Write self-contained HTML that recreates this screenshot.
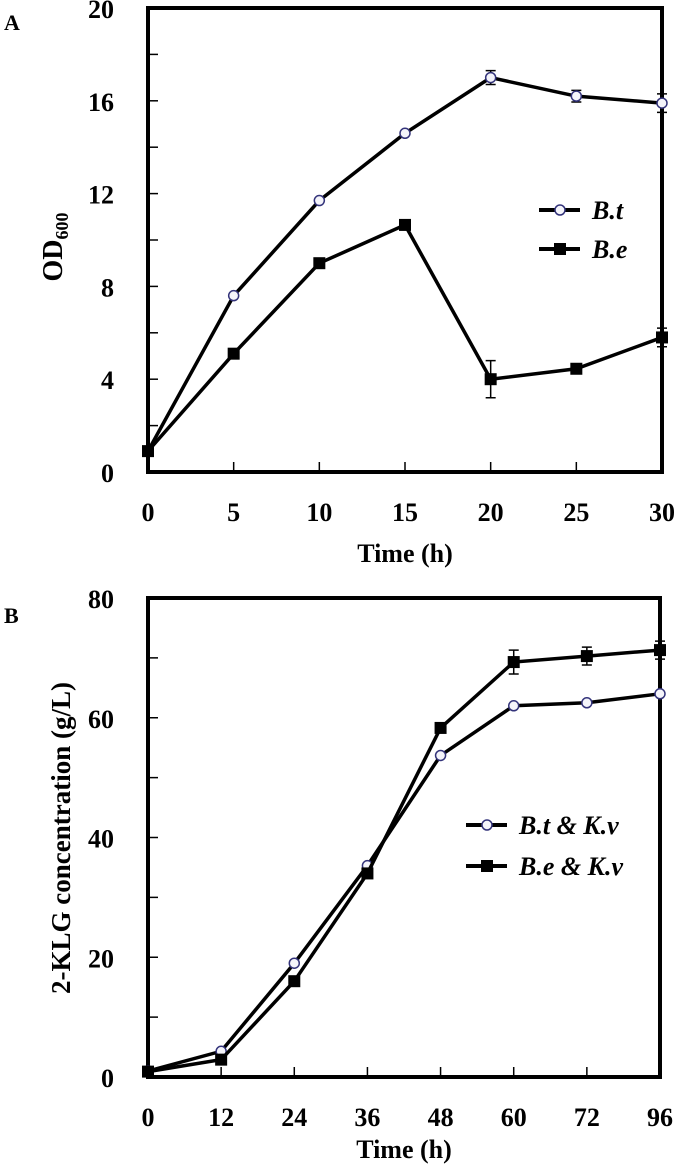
<!DOCTYPE html>
<html><head><meta charset="utf-8"><style>
body{margin:0;background:#fff}
svg{display:block;font-family:"Liberation Serif",serif;font-weight:bold}
</style></head><body>
<svg id="fig" width="675" height="1168" viewBox="0 0 675 1168"></svg>
<script>
const timeA = [0,5,10,15,20,25,30];
const btA = [0.9,7.6,11.7,14.6,17.0,16.2,15.9];
const btAErr = [0,0,0,0,0.3,0.25,0.4];
const beA = [0.9,5.1,9.0,10.65,4.0,4.45,5.8];
const beAErr = [0,0,0,0,0.8,0,0.4];
const yTicksA = [0,4,8,12,16,20];
const catsB = ["0","12","24","36","48","60","72","96"];
const btB = [1.0,4.3,19,35.3,53.7,62,62.5,64];
const btBErr = [0,0,0,0,0,0,0,0];
const beB = [0.9,2.9,16,34,58.3,69.3,70.3,71.3];
const beBErr = [0,0,0,0,0,2,1.5,1.5];
const yTicksB = [0,20,40,60,80];

const NS="http://www.w3.org/2000/svg";
const svg=document.getElementById('fig');
function mk(t,a,p){const e=document.createElementNS(NS,t);for(const k in a)e.setAttribute(k,a[k]);(p||svg).appendChild(e);return e;}

function panel(o){
  const g=mk('g',{});
  
  
  const X=i=>o.x0+(o.x1-o.x0)*i/(o.n-1);
  const Y=v=>o.y0-(o.y0-o.y1)*v/o.ymax;
  for(let v=0;v<=o.ymax;v+=o.minor){
    const t=mk('line',{x1:o.x0,x2:o.x0+10,y1:Y(v),y2:Y(v),stroke:'#000','stroke-width':1.5},g);
    
    
  }
  o.yTicks.forEach(v=>{
    const t=mk('text',{x:o.x0-34,y:Y(v)+10,'text-anchor':'end','font-size':26},g);
    t.textContent=v;
    
    
  });
  o.xLabels.forEach((l,i)=>{
    const tk=mk('line',{x1:X(i),x2:X(i),y1:o.y0,y2:o.y0-10,stroke:'#000','stroke-width':1.5},g);
    
    
    const t=mk('text',{x:X(i),y:o.y0+49,'text-anchor':'middle','font-size':26},g);
    t.textContent=l;
    
    
  });
  const fr=mk('rect',{x:o.x0,y:o.y1,width:o.x1-o.x0,height:o.y0-o.y1,fill:'none',stroke:'#000','stroke-width':4},g);
  
  
  o.series.forEach(s=>{
    const pl=mk('polyline',{points:s.v.map((v,i)=>X(i)+','+Y(v)).join(' '),fill:'none',stroke:'#000','stroke-width':3.5},g);
    
    
    s.v.forEach((v,i)=>{
      if(s.e[i]>0){
        const eb=mk('path',{d:`M${X(i)-5},${Y(v+s.e[i])}H${X(i)+5}M${X(i)},${Y(v+s.e[i])}V${Y(v-s.e[i])}M${X(i)-5},${Y(v-s.e[i])}H${X(i)+5}`,stroke:'#000','stroke-width':1.5,fill:'none'},g);
        
        
      }
      let m;
      if(s.sq) m=mk('rect',{x:X(i)-6,y:Y(v)-6,width:12,height:12,fill:'#000'},g);
      else m=mk('circle',{cx:X(i),cy:Y(v),r:5,fill:'#f4f4fa',stroke:'#33337a','stroke-width':1.5},g);
      
      
    });
  });
  o.series.forEach((s,k)=>{
    const ly=o.legY+k*o.legDy;
    const ln=mk('line',{x1:o.legX,x2:o.legX+41,y1:ly,y2:ly,stroke:'#000','stroke-width':4},g);
    
    
    let m;
    if(s.sq) m=mk('rect',{x:o.legX+15,y:ly-6,width:12,height:12,fill:'#000'},g);
    else m=mk('circle',{cx:o.legX+21,cy:ly,r:5,fill:'#f4f4fa',stroke:'#33337a','stroke-width':1.5},g);
    
    
    const t=mk('text',{x:o.legX+53,y:ly+9,'font-size':26,'font-style':'italic'},g);
    t.textContent=s.label;
    
    
  });
  const pl=mk('text',{x:4,y:o.panY,'font-size':22},g);
  pl.textContent=o.panel;
  
  
  const xt=mk('text',{x:(o.x0+o.x1)/2,y:o.xtY,'text-anchor':'middle','font-size':26},g);
  xt.textContent='Time (h)';
  
  
  return g;
}

panel({name:'panel-a',panel:'A',panY:30,x0:148,x1:662,y0:472,y1:8,n:7,ymax:20,minor:2,yTicks:yTicksA,xLabels:timeA,
  series:[{name:'bt',label:'B.t',v:btA,e:btAErr,sq:false},{name:'be',label:'B.e',v:beA,e:beAErr,sq:true}],
  legX:539,legY:210,legDy:39,xtY:562});
panel({name:'panel-b',panel:'B',panY:623,x0:148,x1:660,y0:1077,y1:598,n:8,ymax:80,minor:10,yTicks:yTicksB,xLabels:catsB,
  series:[{name:'bt-kv',label:'B.t & K.v',v:btB,e:btBErr,sq:false},{name:'be-kv',label:'B.e & K.v',v:beB,e:beBErr,sq:true}],
  legX:466,legY:825,legDy:41,xtY:1158});

const ya=mk('text',{transform:'translate(62,247) rotate(-90)','text-anchor':'middle','font-size':28});
ya.innerHTML='OD<tspan font-size="18" dy="6">600</tspan>';


const yb=mk('text',{transform:'translate(70,838) rotate(-90)','text-anchor':'middle','font-size':27});
yb.textContent='2-KLG concentration  (g/L)';


</script>
</body></html>
